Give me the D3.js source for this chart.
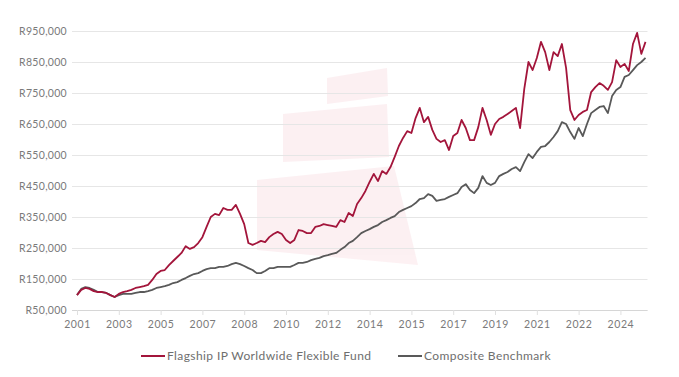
<!DOCTYPE html>
<html>
<head>
<meta charset="utf-8">
<script src="https://cdn.jsdelivr.net/npm/d3@7"></script>
<style>
  html, body { margin: 0; padding: 0; background: #fff; }
  svg text { font-family: Lato, "Open Sans", sans-serif; }
</style>
</head>
<body>
<svg id="chart" width="679" height="377"></svg>
<script>
// ── Data (values in thousands of Rand, evenly spaced observations) ──────────
const xLabels = ["2001", "2003", "2005", "2007", "2008", "2010", "2012",
                 "2014", "2015", "2017", "2019", "2021", "2022", "2024"];
const yTicks = [50000, 150000, 250000, 350000, 450000, 550000, 650000, 750000, 850000, 950000];

const fund = [
  98, 115, 121, 118, 111, 108, 108, 105, 98, 92,
  102, 108, 111, 115, 121, 124, 127, 131, 147, 166,
  176, 179, 195, 208, 221, 234, 256, 247, 253, 266,
  285, 318, 350, 360, 356, 379, 373, 373, 389, 360,
  327, 266, 260, 266, 273, 269, 285, 295, 302, 295,
  276, 266, 276, 308, 305, 298, 298, 318, 321, 327,
  324, 321, 318, 340, 334, 363, 353, 392, 411, 434,
  463, 489, 466, 498, 489, 511, 544, 579, 605, 627,
  621, 669, 702, 656, 673, 631, 602, 592, 598, 566,
  611, 621, 663, 637, 598, 598, 640, 702, 663, 615,
  650, 666, 673, 682, 692, 702, 637, 763, 850, 824,
  863, 915, 882, 824, 882, 869, 908, 831, 695, 663,
  679, 689, 695, 753, 769, 782, 773, 760, 785, 856,
  834, 844, 821, 908, 944, 876, 915
];

const bench = [
  98, 118, 124, 121, 115, 108, 108, 105, 98, 92,
  98, 102, 102, 102, 105, 108, 108, 111, 115, 121,
  124, 127, 131, 137, 140, 147, 153, 160, 166, 169,
  176, 182, 185, 185, 189, 189, 192, 198, 202, 198,
  192, 185, 179, 169, 169, 176, 185, 185, 189, 189,
  189, 189, 195, 202, 202, 205, 211, 215, 218, 224,
  227, 231, 234, 244, 253, 266, 273, 285, 298, 305,
  311, 318, 324, 334, 340, 347, 353, 366, 373, 379,
  385, 395, 408, 411, 424, 418, 402, 405, 408, 415,
  421, 427, 447, 456, 437, 427, 444, 482, 460, 453,
  460, 482, 489, 495, 505, 511, 498, 527, 553, 540,
  560, 576, 579, 592, 608, 627, 656, 650, 624, 602,
  637, 611, 650, 685, 695, 705, 708, 685, 740, 760,
  769, 802, 808, 824, 840, 850, 863
];

const seriesNames = ["Flagship IP Worldwide Flexible Fund", "Composite Benchmark"];
const seriesColors = ["#a3153b", "#595959"];

// ── Layout ───────────────────────────────────────────────────────────────────
const svg = d3.select("#chart");
const plotLeft = 77, plotRight = 645.5, plotTop = 31, plotBottom = 310;
const perLabel = 10; // observations between x labels

const x = d3.scaleLinear().domain([0, fund.length - 1]).range([plotLeft, plotRight]);
const y = d3.scaleLinear().domain([50000, 950000]).range([plotBottom, plotTop]);

// Faint watermark (sail logo) behind the plot
const wm = svg.append("g").attr("fill", "#fbe7eb").attr("opacity", 0.6);
[
  [[327, 78], [387, 68], [388, 96], [327, 104]],
  [[283, 114], [387, 104], [389, 157], [283, 162]],
  [[257, 180], [394, 166], [418, 265], [257, 250]]
].forEach(p => wm.append("path").attr("d", d3.line()(p) + "Z"));

// Gridlines + y labels
const yAxis = d3.axisLeft(y).tickValues(yTicks)
  .tickSize(-(plotRight + 2 - 72))
  .tickFormat(d => "R" + d3.format(",")(d))
  .tickPadding(5);
const gy = svg.append("g").attr("transform", "translate(72,0)").call(yAxis);
gy.select(".domain").remove();
gy.selectAll(".tick line").attr("stroke", "#e6e6e6").attr("stroke-width", 1);
gy.selectAll(".tick text").attr("fill", "#7a7a7a").attr("font-size", "10.5px")
  .attr("letter-spacing", "0.3px");

// X axis
const xAxis = d3.axisBottom(x)
  .tickValues(xLabels.map((d, i) => i * perLabel))
  .tickFormat((d, i) => xLabels[i])
  .tickSize(5).tickPadding(6);
const gx = svg.append("g").attr("transform", `translate(0,${plotBottom})`).call(xAxis);
gx.select(".domain").attr("d", `M72,0.5H${plotRight + 2}`).attr("stroke", "#d6d6d6");
gx.selectAll(".tick line").attr("stroke", "#e0e0e0");
gx.selectAll(".tick text").attr("fill", "#7a7a7a").attr("font-size", "10.5px")
  .attr("letter-spacing", "0.6px");

// Lines
const line = d3.line().x((d, i) => x(i)).y(d => y(d * 1000));
[bench, fund].forEach((s, k) => {
  svg.append("path").datum(s)
    .attr("fill", "none")
    .attr("stroke", k === 0 ? seriesColors[1] : seriesColors[0])
    .attr("stroke-width", 1.8)
    .attr("stroke-linejoin", "round")
    .attr("d", line);
});

// Legend
const legendX = [141, 398];
seriesNames.forEach((name, i) => {
  const lg = svg.append("g").attr("transform", `translate(${legendX[i]},356)`);
  lg.append("line").attr("x1", 0).attr("x2", 24).attr("y1", 0).attr("y2", 0)
    .attr("stroke", seriesColors[i]).attr("stroke-width", 2);
  lg.append("text").attr("x", 26).attr("y", 4)
    .attr("font-size", "12px").attr("fill", "#6e6e6e")
    .attr("letter-spacing", "0.4px").text(name);
});
</script>
</body>
</html>
